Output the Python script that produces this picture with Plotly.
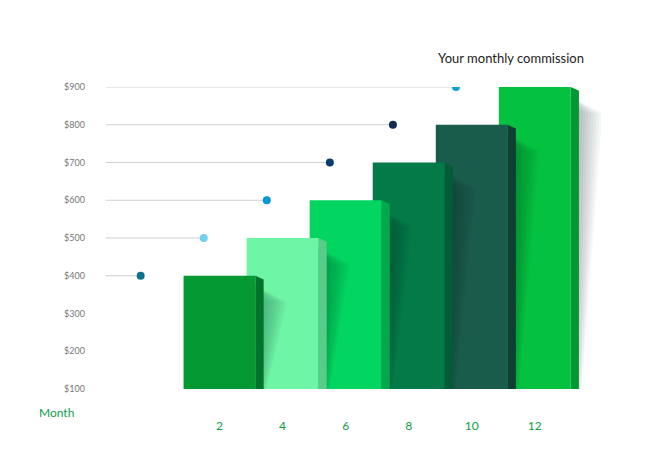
import plotly.graph_objects as go

# data
months = [2, 4, 6, 8, 10, 12]
commission = [400, 500, 600, 700, 800, 900]
front_colors = ['#059933', '#6ef5a6', '#03d660', '#057a49', '#1a5c4c', '#05c140']
side_colors = ['#03722a', '#5acc8a', '#02a84c', '#035c37', '#0f3f33', '#049834']
dot_colors = ['#0a7290', '#6fd0f2', '#0795d9', '#0b3d6b', '#122c4f', '#13a2c9']
y_ticks = [100, 200, 300, 400, 500, 600, 700, 800, 900]

base = 100
half_w = 1.14
side_w = 0.26
line_start = -1.7
dot_shift = 2.6

fig = go.Figure()

# dot lines
for m, v, c in zip(months, commission, dot_colors):
    fig.add_trace(go.Scatter(x=[line_start, m - dot_shift], y=[v, v], mode='lines',
                             line=dict(color='#cfcfcf', width=1), hoverinfo='skip'))
    fig.add_trace(go.Scatter(x=[m - dot_shift], y=[v], mode='markers',
                             marker=dict(color=c, size=8), hoverinfo='skip'))

# bars, last first so earlier bars sit on top
for m, v, fc, sc in reversed(list(zip(months, commission, front_colors, side_colors))):
    c = m - 0.1
    r = c + half_w
    # soft shadow to the right
    for i in range(10):
        k = 1.0 - i * 0.09
        fig.add_trace(go.Scatter(
            x=[r, r + k * 1.0, r + k * 0.35, r], y=[v - 25, v - 70, base, base],
            fill='toself', fillcolor='rgba(0,40,20,0.035)', line=dict(width=0),
            mode='lines', hoverinfo='skip'))
    fig.add_trace(go.Scatter(
        x=[r, r + side_w, r + side_w, r], y=[v, v - 10, base, base],
        fill='toself', fillcolor=sc, line=dict(width=0), mode='lines', hoverinfo='skip'))
    fig.add_trace(go.Scatter(
        x=[c - half_w, r, r, c - half_w], y=[v, v, base, base],
        fill='toself', fillcolor=fc, line=dict(width=0), mode='lines', hoverinfo='skip'))

fig.update_layout(
    width=650, height=460, showlegend=False,
    plot_bgcolor='white', paper_bgcolor='white',
    margin=dict(l=98, r=57, t=79, b=79),
    font=dict(family='Lato'),
    xaxis=dict(range=[line_start, 14], showgrid=False, zeroline=False, showline=False,
               tickvals=[m - 0.1 for m in months], ticktext=[str(m) for m in months],
               tickfont=dict(color='#0c9d4a', size=12), ticks='', ticklabelstandoff=28,
               automargin=False),
    yaxis=dict(range=[100, 900], showgrid=False, zeroline=False, showline=False,
               tickvals=y_ticks, ticktext=[f'${t}' for t in y_ticks],
               tickfont=dict(color='#777777', size=9), ticks='', ticklabelstandoff=20,
               automargin=False),
    annotations=[
        dict(text='Your monthly commission', xref='paper', yref='paper', x=0.97, y=1.13,
             xanchor='right', showarrow=False, font=dict(size=13, color='#222222')),
        dict(text='Month', xref='paper', yref='paper', x=-0.14, y=-0.11,
             xanchor='left', showarrow=False, font=dict(size=12, color='#0c9d4a')),
    ],
)

fig.write_html("out.html")
